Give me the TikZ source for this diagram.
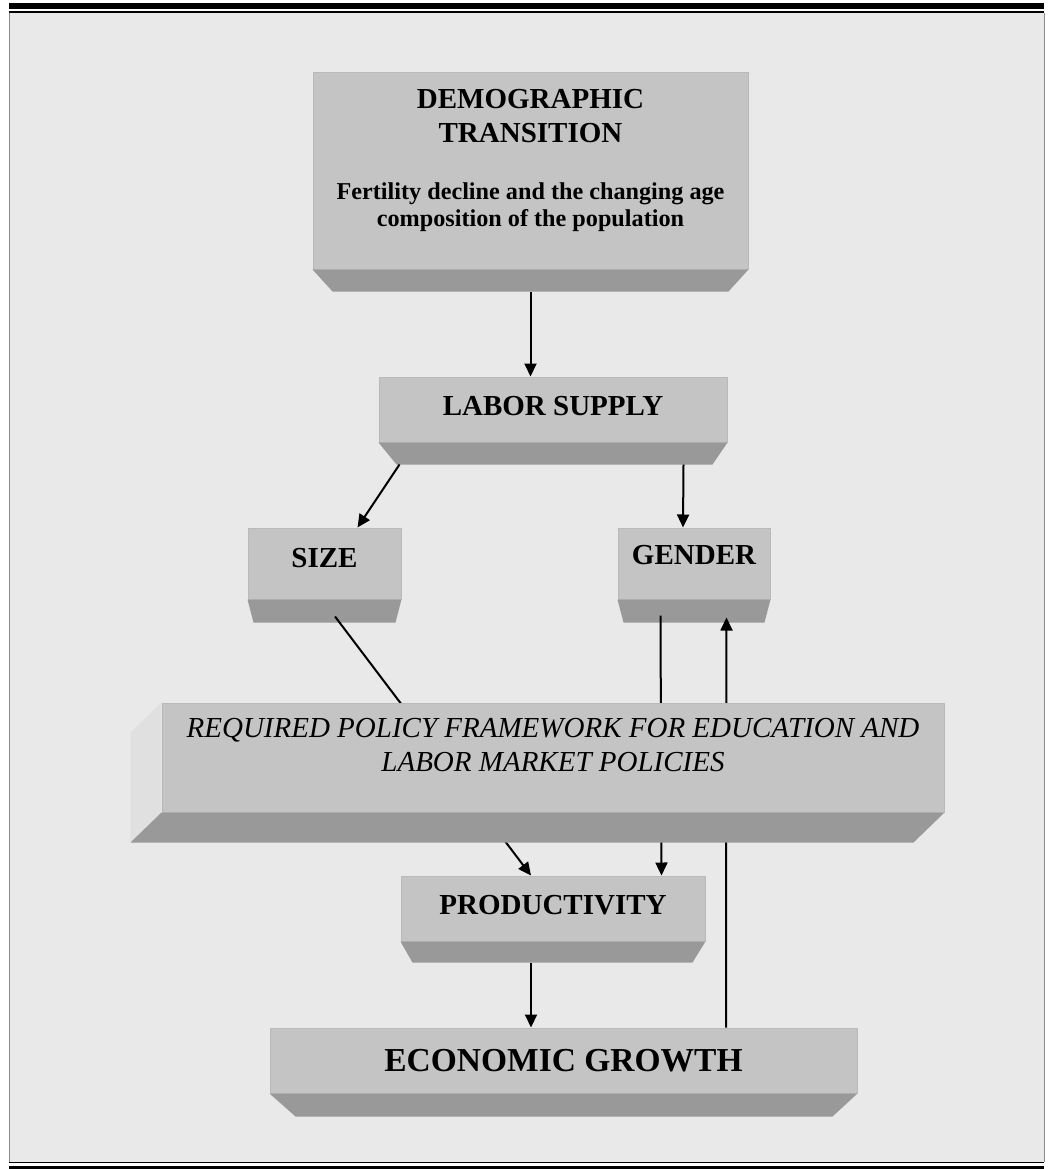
\documentclass[tikz,border=0pt]{standalone}
\usepackage{fontspec}
\setmainfont{Liberation Serif}
\usetikzlibrary{arrows.meta}

\definecolor{pagegray}{HTML}{E9E9E9}
\definecolor{facegray}{HTML}{C4C4C4}
\definecolor{rimgray}{HTML}{B9B9B9}
\definecolor{footgray}{HTML}{999999}
\definecolor{sidegray}{HTML}{E0E0E0}
\definecolor{framegray}{HTML}{8C8C8C}

\tikzset{
  block/.style={fill=facegray, draw=rimgray, line width=1pt, inner sep=0pt, anchor=base,
    font=\bfseries\fontsize{29}{34}\selectfont},
  link/.style={line width=2pt, -{Triangle[length=13pt,width=12pt]}},
}

% dark slanted foot under a block: node, depth, left inset, right inset
\newcommand{\blockfoot}[4]{%
  \fill[footgray] (#1.south west) -- (#1.south east)
    -- ([shift={(-#4,#2)}]#1.south east) -- ([shift={(#3,#2)}]#1.south west) -- cycle;}

\begin{document}
\begin{tikzpicture}[x=1pt, y=-1pt]
  \useasboundingbox (0,0) rectangle (1053,1169);

  % page frame
  \fill[pagegray] (9,13) rectangle (1044,1162);
  \draw[framegray, line width=1pt] (9,13) -- (9,1162) (1044,13) -- (1044,1162);
  \fill[black] (9,2.7) rectangle (1044,9.3);
  \draw[black, line width=1.6pt] (9,12.3) -- (1044,12.3);
  \draw[black, line width=1.6pt] (9,1162.5) -- (1044,1162.5);
  \fill[black] (9,1166) rectangle (1044,1169);

  % blocks
  \node[block, text width=435pt, align=flush center, text height=36pt, text depth=160pt] (DT) at (530.5,109)
    {DEMOGRAPHIC\\TRANSITION\par\vspace{30pt}%
     {\fontsize{24.2}{27}\selectfont Fertility decline and the changing age\\composition of the population\par}};
  \blockfoot{DT}{22}{20}{20}

  \node[block, minimum width=348pt, text height=38pt, text depth=27pt] (LS) at (553,415) {LABOR SUPPLY};
  \blockfoot{LS}{22}{18}{15}

  \node[block, minimum width=153pt, text height=39pt, text depth=32pt] (SZ) at (324.5,567) {SIZE};
  \blockfoot{SZ}{23}{6}{6}

  \node[block, minimum width=152pt, text height=36pt, text depth=35pt] (GD) at (694,564) {GENDER};
  \blockfoot{GD}{23}{6}{6}

  \node[block, minimum width=304pt, text height=38pt, text depth=27pt] (PR) at (553,914) {PRODUCTIVITY};
  \blockfoot{PR}{21}{12}{13}

  \node[block, minimum width=587pt, text height=43pt, text depth=22pt,
    font=\bfseries\fontsize{33.5}{40}\selectfont] (EG) at (563.5,1071) {ECONOMIC GROWTH};
  \blockfoot{EG}{23}{26}{25}

  % links
  \draw[link] ([yshift=-22pt]DT.south) -- (DT.south |- LS.north);
  \draw[link] ([shift={(21,22)}]LS.south west) -- ([xshift=33pt]SZ.north);
  \draw[link] ([shift={(-44,22)}]LS.south east) -- ([xshift=-11pt]GD.north);
  \draw[link] ([shift={(10.5,17)}]SZ.south) -- ([xshift=-22pt]PR.north);
  \draw[link] ([shift={(43,16)}]GD.south west) -- ([xshift=-44pt]PR.north east);
  \draw[link] ([xshift=162.5pt]EG.north) -- ([shift={(-44,18)}]GD.south east);
  \draw[link] ([shift={(-22,21)}]PR.south) -- ([xshift=-32.5pt]EG.north);

  % policy block sits over the links behind it
  \node[block, minimum width=782pt, align=center, text height=68pt, text depth=41pt,
    font=\itshape\fontsize{29}{34}\selectfont] (PF) at (553,771)
    {REQUIRED POLICY FRAMEWORK FOR EDUCATION AND\\LABOR MARKET POLICIES};
  \fill[sidegray] (PF.north west) -- (PF.south west) -- ([shift={(-31,30)}]PF.south west)
    -- ([shift={(-31,30)}]PF.north west) -- cycle;
  \fill[footgray] (PF.south west) -- (PF.south east) -- ([shift={(-31,30)}]PF.south east)
    -- ([shift={(-31,30)}]PF.south west) -- cycle;
\end{tikzpicture}
\end{document}
